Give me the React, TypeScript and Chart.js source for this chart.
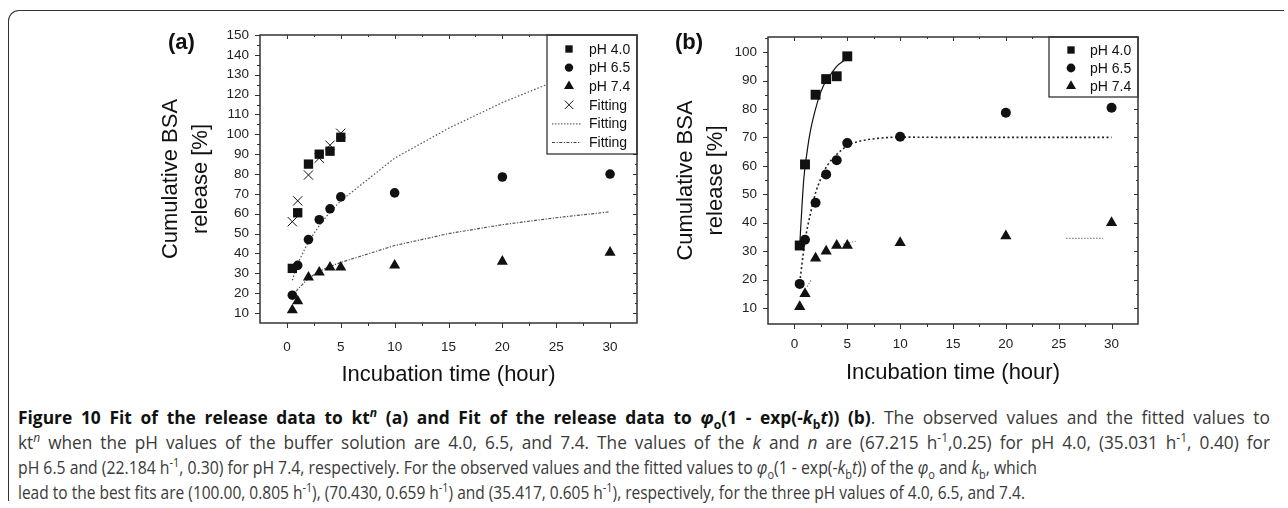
import React, { useEffect, useLayoutEffect, useRef } from 'react';
import { Chart, registerables } from 'chart.js';

Chart.register(...registerables);

const FONT = '"Liberation Sans", Arial, Helvetica, sans-serif';

// ---------- data ----------
const timeEarly = [0.5, 1, 2, 3, 4, 5];
const timeAll = [0.5, 1, 2, 3, 4, 5, 10, 20, 30];

// panel (a): observed
const aPH40 = [32.5, 60.5, 85, 90, 91.5, 98.5];
const aPH65 = [19, 34, 47, 57, 62.5, 68.5, 70.5, 78.5, 80];
const aPH74 = [11.5, 16, 28, 30.5, 33, 33, 34, 36, 40.5];
// panel (a): fits (kt^n)
const aFitCross = [56, 66.5, 79.5, 88, 94.5, 100.5];
const aFitTime = [0.5, 1, 2, 3, 4, 5, 10, 15, 20, 25, 30];
const aFit65 = [26.5, 35, 46, 54, 61, 66.5, 88, 103, 116, 127, 137];
const aFit74 = [18, 22, 27.5, 31, 33.5, 35.5, 44, 50, 54.5, 58, 61];

// panel (b): observed
const bPH40 = [32, 60.5, 85, 90.5, 91.5, 98.5];
const bPH65 = [18.5, 34, 47, 57, 62, 68, 70.2, 78.7, 80.4];
const bPH74 = [10.5, 15, 27.5, 30, 32, 32, 33, 35.3, 40];
// panel (b): fits
const bFit40Time = [0.5, 0.7, 0.9, 1.2, 1.5, 2, 2.5, 3, 3.5, 4, 4.5, 5];
const bFit40 = [32, 45, 56, 65, 72, 80, 86, 90, 92.5, 95, 96.5, 97.5];
const bFit65Time = [0.5, 1, 1.5, 2, 2.5, 3, 4, 5, 6, 8, 10, 15, 30];
const bFit65 = [19, 33.5, 43, 50.5, 55.5, 59.5, 64, 67, 68.5, 69.7, 70.1, 70, 70];
const bFit74Time = [1.2, 1.6, 3, 4.6, 5.8, 15, 25.7, 29.2];
const bFit74 = [17.5, 20, null, 32.5, 33.5, null, 34.5, 34.5];

// ticks
const xMajorTicks = [0, 5, 10, 15, 20, 25, 30];
const xMinorTicks = [2.5, 7.5, 12.5, 17.5, 22.5, 27.5];
const aYMajorTicks = [10, 20, 30, 40, 50, 60, 70, 80, 90, 100, 110, 120, 130, 140, 150];
const aYMinorTicks = [15, 25, 35, 45, 55, 65, 75, 85, 95, 105, 115, 125, 135, 145];
const bYMajorTicks = [10, 20, 30, 40, 50, 60, 70, 80, 90, 100];
const bYMinorTicks = [15, 25, 35, 45, 55, 65, 75, 85, 95, 105];

const seriesLabels = ['pH 4.0', 'pH 6.5', 'pH 7.4'];
const fitLabel = 'Fitting';

// caption line geometry (right ends of each line) and justification flags
const captionWidths = [1252, 1252, 1019, 1007];
const captionJustify = [true, true, false, false];

const pts = (xs: number[], ys: (number | null)[]) => xs.map((x, i) => ({ x, y: ys[i] }));

type Entry = { label: string; kind: 'rect' | 'circle' | 'triangle' | 'cross' | 'line'; dash?: number[]; r?: number };

function drawMarker(ctx: CanvasRenderingContext2D, kind: string, x: number, y: number, r: number) {
  ctx.beginPath();
  if (kind === 'rect') {
    const s = r * Math.SQRT1_2;
    ctx.rect(x - s, y - s, 2 * s, 2 * s);
    ctx.fill();
  } else if (kind === 'circle') {
    ctx.arc(x, y, r, 0, Math.PI * 2);
    ctx.fill();
  } else if (kind === 'triangle') {
    for (let i = 0; i < 3; i++) {
      const a = -Math.PI / 2 + (i * 2 * Math.PI) / 3;
      const px = x + r * Math.cos(a);
      const py = y + r * Math.sin(a);
      if (i === 0) ctx.moveTo(px, py);
      else ctx.lineTo(px, py);
    }
    ctx.closePath();
    ctx.fill();
  } else if (kind === 'cross') {
    const o = r * Math.SQRT1_2;
    ctx.moveTo(x - o, y - o);
    ctx.lineTo(x + o, y + o);
    ctx.moveTo(x - o, y + o);
    ctx.lineTo(x + o, y - o);
    ctx.stroke();
  }
}

type Panel = {
  tag: string;
  tagX: number;
  tagY: number;
  yMin: number;
  yMax: number;
  yMajor: number[];
  yMinor: number[];
  padding: { left: number; right: number; top: number; bottom: number };
  yW: number;
  xH: number;
  xPad: number;
  legend: { width: number; height: number; firstY: number; rowH: number; markerX: number; textX: number; lineX0: number; lineX1: number; entries: Entry[] };
  datasets: any[];
};

function makeDecor(p: Panel) {
  return {
    id: 'decor' + p.tag,
    afterDatasetsDraw(chart: any) {
      const { ctx, chartArea } = chart;
      const { left, right, top, bottom } = chartArea;
      const xs = chart.scales.x;
      const ys = chart.scales.y;
      ctx.save();
      // ticks
      ctx.strokeStyle = '#333';
      ctx.lineWidth = 1;
      ctx.beginPath();
      xMajorTicks.forEach((v) => {
        const px = Math.round(xs.getPixelForValue(v)) + 0.5;
        ctx.moveTo(px, bottom); ctx.lineTo(px, bottom + 5);
        ctx.moveTo(px, top); ctx.lineTo(px, top + 4);
      });
      xMinorTicks.forEach((v) => {
        const px = Math.round(xs.getPixelForValue(v)) + 0.5;
        ctx.moveTo(px, bottom); ctx.lineTo(px, bottom + 3);
        ctx.moveTo(px, top); ctx.lineTo(px, top + 2);
      });
      p.yMajor.forEach((v) => {
        const py = Math.round(ys.getPixelForValue(v)) + 0.5;
        ctx.moveTo(left - 5, py); ctx.lineTo(left, py);
        ctx.moveTo(right - 4, py); ctx.lineTo(right, py);
      });
      p.yMinor.forEach((v) => {
        const py = Math.round(ys.getPixelForValue(v)) + 0.5;
        ctx.moveTo(left - 3, py); ctx.lineTo(left, py);
        ctx.moveTo(right - 2, py); ctx.lineTo(right, py);
      });
      ctx.stroke();

      // legend box
      const L = p.legend;
      const x0 = right - L.width;
      const y0 = top;
      ctx.fillStyle = '#fff';
      ctx.fillRect(x0, y0, L.width, L.height);
      ctx.strokeStyle = '#222';
      ctx.lineWidth = 1.2;
      ctx.strokeRect(x0, y0, L.width, L.height);
      ctx.font = '14px ' + FONT;
      ctx.textBaseline = 'middle';
      ctx.textAlign = 'left';
      L.entries.forEach((e, i) => {
        const cy = y0 + L.firstY + i * L.rowH;
        ctx.fillStyle = '#111';
        ctx.strokeStyle = '#111';
        if (e.kind === 'line') {
          ctx.save();
          ctx.strokeStyle = '#444';
          ctx.lineWidth = 1;
          ctx.setLineDash(e.dash || []);
          ctx.beginPath();
          ctx.moveTo(x0 + L.lineX0, cy + 0.5);
          ctx.lineTo(x0 + L.lineX1, cy + 0.5);
          ctx.stroke();
          ctx.restore();
        } else {
          ctx.lineWidth = 1;
          drawMarker(ctx, e.kind, x0 + L.markerX, cy, e.r || 5);
        }
        ctx.fillStyle = '#111';
        ctx.fillText(e.label, x0 + L.textX, cy + 1);
      });

      // frame
      ctx.strokeStyle = '#333';
      ctx.lineWidth = 1.5;
      ctx.strokeRect(left, top, right - left, bottom - top);

      // panel tag
      ctx.fillStyle = '#111';
      ctx.font = 'bold 22px ' + FONT;
      ctx.textBaseline = 'middle';
      ctx.textAlign = 'left';
      ctx.fillText(p.tag, p.tagX, p.tagY);
      ctx.restore();
    },
  };
}

function buildConfig(p: Panel): any {
  return {
    type: 'scatter',
    data: { datasets: p.datasets },
    options: {
      animation: false,
      responsive: false,
      events: [],
      layout: { padding: p.padding },
      plugins: { legend: { display: false }, tooltip: { enabled: false } },
      scales: {
        x: {
          type: 'linear',
          min: -2.5,
          max: 32.5,
          grid: { display: false, drawTicks: false },
          border: { display: false },
          ticks: { color: '#222', autoSkip: false, maxRotation: 0, font: { family: FONT, size: 13.5 }, padding: p.xPad },
          afterBuildTicks: (s: any) => { s.ticks = xMajorTicks.map((v) => ({ value: v })); },
          afterFit: (s: any) => { s.height = p.xH; },
          title: { display: true, text: 'Incubation time (hour)', color: '#111', font: { family: FONT, size: 22 }, padding: { top: 0, bottom: 0 } },
        },
        y: {
          type: 'linear',
          min: p.yMin,
          max: p.yMax,
          grid: { display: false, drawTicks: false },
          border: { display: false },
          ticks: { color: '#222', autoSkip: false, font: { family: FONT, size: 13.5 }, padding: 11 },
          afterBuildTicks: (s: any) => { s.ticks = p.yMajor.map((v) => ({ value: v })); },
          afterFit: (s: any) => { s.width = p.yW; },
          title: { display: true, text: ['Cumulative BSA', 'release [%]'], color: '#111', font: { family: FONT, size: 22, lineHeight: 30 / 22 }, padding: { top: 0, bottom: 0 } },
        },
      },
    },
    plugins: [makeDecor(p)],
  };
}

const marker = (data: any[], style: string, r: number) => ({
  data,
  showLine: false,
  pointStyle: style,
  pointRadius: r,
  backgroundColor: '#111',
  borderColor: '#111',
  borderWidth: style === 'crossRot' ? 1 : 0,
});

const fitLine = (data: any[], color: string, width: number, dash: number[], smooth = false) => ({
  data,
  showLine: true,
  pointRadius: 0,
  borderColor: color,
  borderWidth: width,
  borderDash: dash,
  fill: false,
  spanGaps: false,
  cubicInterpolationMode: smooth ? 'monotone' : 'default',
  tension: smooth ? 0.4 : 0,
});

const panelA: Panel = {
  tag: '(a)',
  tagX: 38,
  tagY: 43,
  yMin: 5,
  yMax: 150,
  yMajor: aYMajorTicks,
  yMinor: aYMinorTicks,
  padding: { left: 26, right: 13, top: 35, bottom: 12 },
  yW: 104,
  xH: 65,
  xPad: 16,
  legend: {
    width: 90, height: 119, firstY: 14, rowH: 18.6, markerX: 22, textX: 42, lineX0: 5, lineX1: 34,
    entries: [
      { label: seriesLabels[0], kind: 'rect', r: 5.2 },
      { label: seriesLabels[1], kind: 'circle', r: 4.2 },
      { label: seriesLabels[2], kind: 'triangle', r: 5.8 },
      { label: fitLabel, kind: 'cross', r: 6 },
      { label: fitLabel, kind: 'line', dash: [1.5, 1.5] },
      { label: fitLabel, kind: 'line', dash: [3, 1.5, 1.2, 1.5] },
    ],
  },
  datasets: [
    marker(pts(timeEarly, aPH40), 'rect', 6.6),
    marker(pts(timeAll, aPH65), 'circle', 4.8),
    marker(pts(timeAll, aPH74), 'triangle', 6.4),
    marker(pts(timeEarly, aFitCross), 'crossRot', 6.6),
    fitLine(pts(aFitTime, aFit65), '#555', 1.2, [1.5, 2]),
    fitLine(pts(aFitTime, aFit74), '#555', 1.2, [3, 1.5, 1.2, 1.5]),
  ],
};

const panelB: Panel = {
  tag: '(b)',
  tagX: 25,
  tagY: 43,
  yMin: 4.4,
  yMax: 105.3,
  yMajor: bYMajorTicks,
  yMinor: bYMinorTicks,
  padding: { left: 21, right: 22, top: 37, bottom: 14 },
  yW: 97,
  xH: 62,
  xPad: 12,
  legend: {
    width: 89, height: 60, firstY: 13, rowH: 18, markerX: 22, textX: 41, lineX0: 5, lineX1: 34,
    entries: [
      { label: seriesLabels[0], kind: 'rect', r: 5.2 },
      { label: seriesLabels[1], kind: 'circle', r: 4.4 },
      { label: seriesLabels[2], kind: 'triangle', r: 5.8 },
    ],
  },
  datasets: [
    marker(pts(timeEarly, bPH40), 'rect', 7),
    marker(pts(timeAll, bPH65), 'circle', 5),
    marker(pts(timeAll, bPH74), 'triangle', 6.5),
    fitLine(pts(bFit40Time, bFit40), '#111', 1.2, [], true),
    fitLine(pts(bFit65Time, bFit65), '#222', 1.6, [2, 2.5], true),
    fitLine(pts(bFit74Time, bFit74), '#888', 1.2, [1.5, 1.5]),
  ],
};

function ChartCanvas({ panel, left, width, height }: { panel: Panel; left: number; width: number; height: number }) {
  const ref = useRef<HTMLCanvasElement>(null);
  useEffect(() => {
    if (!ref.current) return;
    const chart = new Chart(ref.current, buildConfig(panel));
    return () => chart.destroy();
  }, [panel]);
  return (
    <canvas
      ref={ref}
      width={width}
      height={height}
      style={{ position: 'absolute', left, top: 0, width, height }}
    />
  );
}

const supStyle: React.CSSProperties = { fontSize: '0.7em', verticalAlign: 'super', lineHeight: 0 };
const subStyle: React.CSSProperties = { fontSize: '0.7em', verticalAlign: 'sub', lineHeight: 0 };
const Sup = ({ children }: { children: React.ReactNode }) => <span style={supStyle}>{children}</span>;
const Sub = ({ children }: { children: React.ReactNode }) => <span style={subStyle}>{children}</span>;
const Phi = () => (<><i>φ</i><Sub>o</Sub></>);
const Kb = () => (<><i>k</i><Sub>b</Sub></>);

const captionLines: React.ReactNode[] = [
  <><b style={{ color: '#111' }}>Figure 10 Fit of the release data to kt<Sup><i>n</i></Sup> (a) and Fit of the release data to <Phi />(1 - exp(-<Kb /><i>t</i>)) (b)</b>. The observed values and the fitted values to</>,
  <>kt<Sup><i>n</i></Sup> when the pH values of the buffer solution are 4.0, 6.5, and 7.4. The values of the <i>k</i> and <i>n</i> are (67.215 h<Sup>-1</Sup>,0.25) for pH 4.0, (35.031 h<Sup>-1</Sup>, 0.40) for</>,
  <>pH 6.5 and (22.184 h<Sup>-1</Sup>, 0.30) for pH 7.4, respectively. For the observed values and the fitted values to <Phi />(1 - exp(-<Kb /><i>t</i>)) of the <Phi /> and <Kb />, which</>,
  <>lead to the best fits are (100.00, 0.805 h<Sup>-1</Sup>), (70.430, 0.659 h<Sup>-1</Sup>) and (35.417, 0.605 h<Sup>-1</Sup>), respectively, for the three pH values of 4.0, 6.5, and 7.4.</>,
];

function Caption() {
  const refs = [useRef<HTMLSpanElement>(null), useRef<HTMLSpanElement>(null), useRef<HTMLSpanElement>(null), useRef<HTMLSpanElement>(null)];
  useLayoutEffect(() => {
    const els = refs.map((r) => r.current);
    if (els.some((e) => !e)) return;
    els.forEach((el) => { el!.style.transform = 'none'; el!.style.wordSpacing = '0px'; });
    const widths = els.map((el) => el!.getBoundingClientRect().width);
    if (!widths[2]) return;
    const base = captionWidths[2] / widths[2];
    els.forEach((el, i) => {
      let s = captionWidths[i] / widths[i];
      if (captionJustify[i]) {
        // spread the extra width half through glyph scaling, half through word spacing
        s = Math.sqrt(s * base);
        const n = (el!.textContent || '').split(' ').length - 1;
        if (n > 0) {
          const ws = (captionWidths[i] / s - widths[i]) / n;
          el!.style.wordSpacing = ws + 'px';
        }
      }
      el!.style.transform = `scaleX(${s})`;
    });
  }, []);
  return (
    <div style={{ fontFamily: '"Open Sans", "Noto Sans", sans-serif', fontSize: 17.5, color: '#3a3a3a' }}>
      {captionLines.map((line, i) => (
        <div key={i} style={{ position: 'absolute', left: 18, top: 405 + i * 25, height: 25, lineHeight: '25px', whiteSpace: 'nowrap' }}>
          <span ref={refs[i]} style={{ display: 'inline-block', transformOrigin: '0 50%' }}>{line}</span>
        </div>
      ))}
    </div>
  );
}

export default function App() {
  return (
    <div style={{ position: 'absolute', left: 0, top: 0, width: 1288, height: 508, background: '#fff', overflow: 'hidden' }}>
      <div
        style={{
          position: 'absolute', left: 8, top: 10, width: 1276, height: 491, boxSizing: 'border-box',
          borderTop: '1.5px solid #333', borderLeft: '1.5px solid #333', borderTopLeftRadius: 11,
        }}
      />
      <ChartCanvas panel={panelA} left={130} width={520} height={400} />
      <ChartCanvas panel={panelB} left={650} width={510} height={400} />
      <Caption />
    </div>
  );
}
